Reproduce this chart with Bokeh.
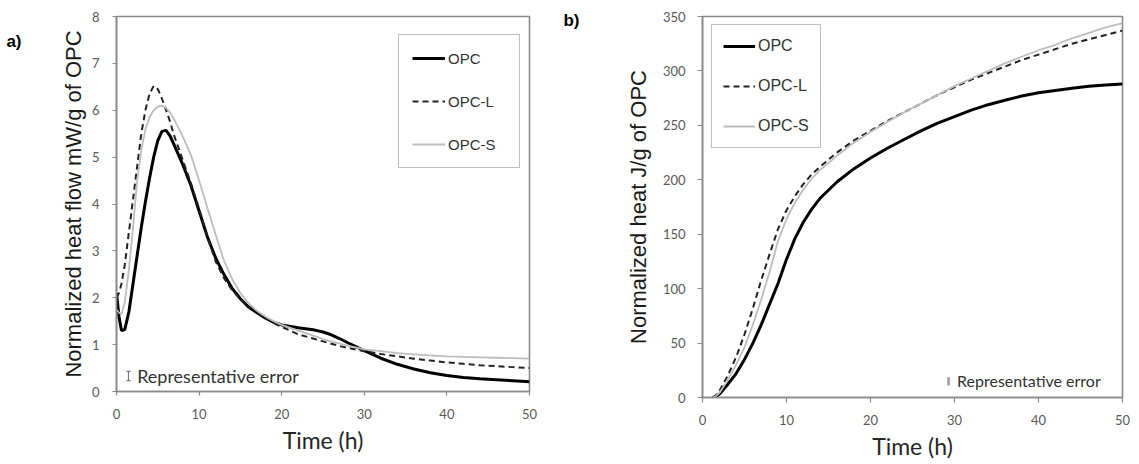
from bokeh.plotting import figure
from bokeh.models import (Range1d, FixedTicker, Legend, LegendItem, Label,
                          Whisker, TeeHead, ColumnDataSource, LinearAxis)
from bokeh.layouts import row
from bokeh.embed import file_html
from bokeh.resources import INLINE

# ---------------- Panel a: normalized heat flow (mW/g of OPC) ----------------
t_a = [0, 0.3, 0.6, 1, 1.5, 2, 2.5, 3, 3.5, 4, 4.5, 5, 5.5, 6, 6.5, 7, 8, 9, 10,
       11, 12, 13, 14, 15, 16, 17, 18, 19, 20, 22, 24, 25, 26, 27, 28, 30, 32, 34,
       36, 38, 40, 42, 44, 46, 48, 50]
opc_a = [2.1, 1.6, 1.3, 1.32, 1.7, 2.3, 2.9, 3.5, 4.05, 4.55, 5.0, 5.35, 5.55,
         5.57, 5.45, 5.25, 4.85, 4.4, 3.85, 3.3, 2.85, 2.5, 2.2, 1.98, 1.8, 1.68,
         1.57, 1.48, 1.42, 1.36, 1.31, 1.27, 1.21, 1.13, 1.04, 0.87, 0.71, 0.58,
         0.48, 0.4, 0.34, 0.3, 0.27, 0.25, 0.23, 0.21]
opcl_a = [2.0, 2.1, 2.3, 2.7, 3.4, 4.1, 4.8, 5.5, 6.0, 6.35, 6.52, 6.45, 6.25,
          6.0, 5.75, 5.45, 4.95, 4.45, 3.9, 3.3, 2.78, 2.42, 2.16, 1.97, 1.82,
          1.7, 1.58, 1.46, 1.38, 1.22, 1.12, 1.07, 1.02, 0.97, 0.93, 0.86, 0.8,
          0.75, 0.7, 0.66, 0.62, 0.59, 0.56, 0.54, 0.52, 0.5]
opcs_a = [1.75, 1.68, 1.65, 1.9, 2.6, 3.5, 4.5, 5.15, 5.6, 5.85, 6.0, 6.08, 6.1,
          6.05, 5.95, 5.8, 5.45, 5.05, 4.5, 3.92, 3.35, 2.8, 2.4, 2.1, 1.88, 1.72,
          1.6, 1.5, 1.42, 1.3, 1.18, 1.12, 1.07, 1.02, 0.98, 0.9, 0.86, 0.82,
          0.79, 0.77, 0.75, 0.74, 0.73, 0.72, 0.71, 0.7]

# ---------------- Panel b: normalized cumulative heat (J/g of OPC) ----------------
t_b = [1.2, 1.5, 2, 3, 4, 5, 6, 7, 8, 9, 10, 11, 12, 13, 14, 16, 18, 20, 22, 24,
       26, 28, 30, 32, 34, 36, 38, 40, 42, 44, 46, 48, 50]
opc_b = [0, 0.5, 3, 12, 22, 35, 50, 67, 86, 105, 127, 146, 161, 173, 183, 198,
         210, 220, 229, 237, 245, 252, 258, 264, 269, 273, 277, 280, 282, 284,
         286, 287, 288]
opcl_b = [0, 1, 6, 20, 37, 58, 82, 108, 132, 155, 172, 185, 196, 205, 212, 225,
          236, 245, 254, 262, 270, 278, 285, 292, 298, 304, 310, 315, 320, 325,
          329, 333, 337]
opcs_b = [0, 0.5, 4, 16, 30, 46, 67, 90, 116, 144, 164, 179, 191, 201, 209, 222,
          234, 244, 253, 262, 270, 278, 286, 293, 300, 307, 313, 319, 324, 330,
          335, 340, 344]

series_names = ["OPC", "OPC-L", "OPC-S"]
panel_tags = ["a)", "b)"]
x_ticks = [0, 10, 20, 30, 40, 50]
y_ticks_a = [0, 1, 2, 3, 4, 5, 6, 7, 8]
y_ticks_b = [0, 50, 100, 150, 200, 250, 300, 350]

# representative error bars
err_a_x, err_a_lo, err_a_hi = [1.45], [0.23], [0.43]
err_b_x, err_b_lo, err_b_hi = [29.3], [11.0], [18.5]

AX = "#8a8a8a"
TICK_TXT = "#595959"
TICK_FONT = "Lato"
TITLE_FONT = "Liberation Sans"


def style(p, yt, tick_out, lab_standoff, tick_size, x_title_standoff, y_title_standoff):
    p.xaxis.ticker = FixedTicker(ticks=x_ticks)
    p.yaxis.ticker = FixedTicker(ticks=yt)
    for ax in (p.xaxis, p.yaxis):
        ax.axis_line_color = AX
        ax.axis_line_width = 1.6
        ax.major_tick_line_color = AX
        ax.major_tick_line_width = 1.2
        ax.major_tick_in = 0
        ax.major_tick_out = tick_out
        ax.minor_tick_line_color = None
        ax.major_label_text_font = TICK_FONT
        ax.major_label_text_font_size = tick_size
        ax.major_label_text_color = TICK_TXT
        ax.major_label_standoff = lab_standoff
    p.xaxis.axis_label = "Time (h)"
    p.xaxis.axis_label_text_font = TICK_FONT
    p.xaxis.axis_label_text_font_size = "23px"
    p.xaxis.axis_label_text_font_style = "normal"
    p.xaxis.axis_label_text_color = "#262626"
    p.xaxis.axis_label_standoff = x_title_standoff
    p.yaxis.axis_label_text_font = TITLE_FONT
    p.yaxis.axis_label_text_font_size = "22px"
    p.yaxis.axis_label_text_font_style = "normal"
    p.yaxis.axis_label_text_color = "#1a1a1a"
    p.yaxis.axis_label_standoff = y_title_standoff
    p.xgrid.grid_line_color = None
    p.ygrid.grid_line_color = None
    p.outline_line_color = AX
    p.outline_line_width = 1.6
    p.background_fill_color = "white"
    p.border_fill_color = "white"


def add_lines(p, t, a, b, c):
    r1 = p.line(t, a, line_color="black", line_width=3.0)
    r2 = p.line(t, b, line_color="#222222", line_width=2.0, line_dash="6 4")
    r3 = p.line(t, c, line_color="#bdbdbd", line_width=1.8)
    return [r1, r2, r3]


def add_tag(p, tag, y_at, standoff):
    # panel tag drawn as the only label of an extra, invisible outer left axis
    ax = LinearAxis(ticker=FixedTicker(ticks=[y_at]),
                    major_label_overrides={y_at: tag},
                    axis_line_color=None, major_tick_line_color=None,
                    minor_tick_line_color=None, major_tick_out=0, major_tick_in=0,
                    major_label_standoff=standoff,
                    major_label_text_font=TITLE_FONT,
                    major_label_text_font_size="17px",
                    major_label_text_font_style="bold",
                    major_label_text_color="black")
    p.add_layout(ax, "left")


# ---------------- figure a ----------------
pa = figure(frame_width=413, frame_height=375, min_border_left=116,
            min_border_right=30, min_border_top=16, min_border_bottom=65,
            x_range=Range1d(0, 50), y_range=Range1d(0, 8),
            output_backend="svg", toolbar_location=None)
style(pa, y_ticks_a, 4, 13, "13px", 4, 3)
pa.yaxis.axis_label = "Normalized heat flow mW/g of OPC"
rs_a = add_lines(pa, t_a, opc_a, opcl_a, opcs_a)
add_tag(pa, panel_tags[0], 7.46, 36)

leg_a = Legend(items=[LegendItem(label=n, renderers=[r]) for n, r in zip(series_names, rs_a)],
               location=(282, 223), label_text_font=TITLE_FONT,
               label_text_font_size="15px", label_text_color="#333333",
               glyph_width=33, glyph_height=20, label_height=20, label_width=58,
               label_standoff=3, spacing=23, padding=13, margin=0,
               border_line_color="#7f7f7f", border_line_width=1.6,
               background_fill_alpha=1.0)
pa.add_layout(leg_a)

src_ea = ColumnDataSource(dict(x=err_a_x, lo=err_a_lo, hi=err_a_hi))
pa.add_layout(Whisker(source=src_ea, base="x", lower="lo", upper="hi",
                      line_color="#777777", line_width=1.2,
                      upper_head=TeeHead(size=4, line_color="#777777", line_width=1.2),
                      lower_head=TeeHead(size=4, line_color="#777777", line_width=1.2)))
pa.add_layout(Label(x=2.5, y=0.34, text="Representative error",
                    text_font=TICK_FONT, text_font_size="18px", text_color="#333333",
                    text_baseline="middle", text_align="left"))

# ---------------- figure b ----------------
pb = figure(frame_width=420, frame_height=381, min_border_left=143,
            min_border_right=9, min_border_top=16, min_border_bottom=59,
            x_range=Range1d(0, 50), y_range=Range1d(0, 350),
            output_backend="svg", toolbar_location=None)
style(pb, y_ticks_b, 5, 12, "13px", 4, 9)
pb.yaxis.axis_label = "Normalized heat J/g of OPC"
rs_b = add_lines(pb, t_b, opc_b, opcl_b, opcs_b)
add_tag(pb, panel_tags[1], 346.5, 43)

leg_b = Legend(items=[LegendItem(label=n, renderers=[r]) for n, r in zip(series_names, rs_b)],
               location=(9, 249), label_text_font=TITLE_FONT,
               label_text_font_size="16px", label_text_color="#333333",
               glyph_width=32, glyph_height=20, label_height=20,
               label_standoff=3, spacing=20, padding=11, margin=0,
               border_line_color="#7f7f7f", border_line_width=1.6,
               background_fill_alpha=1.0)
pb.add_layout(leg_b)

pb.segment(x0=err_b_x, y0=err_b_lo, x1=err_b_x, y1=err_b_hi,
           line_color="#a6a6a6", line_width=3)
pb.add_layout(Label(x=30.3, y=15.6, text="Representative error",
                    text_font=TICK_FONT, text_font_size="16px", text_color="#333333",
                    text_baseline="middle", text_align="left"))

layout = row(pa, pb)
open("out.html", "w").write(file_html(layout, INLINE))
